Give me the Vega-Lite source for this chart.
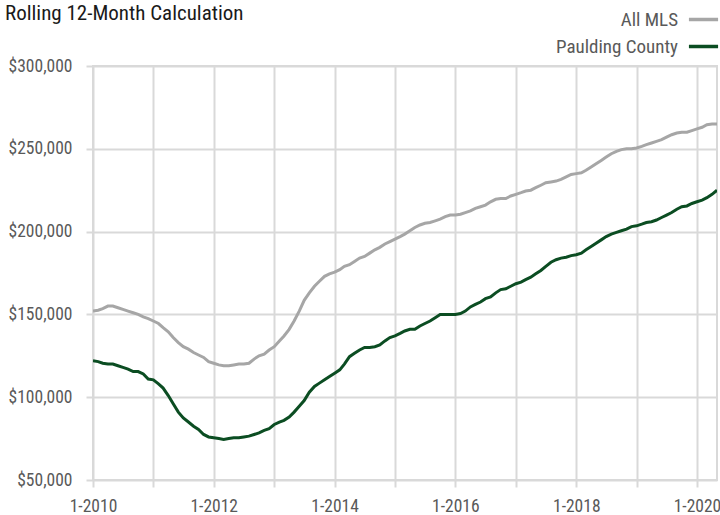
{
  "$schema": "https://vega.github.io/schema/vega-lite/v6.json",
  "width": 624,
  "height": 414,
  "autosize": {"type": "none"},
  "padding": {"left": 93, "top": 66, "right": 3, "bottom": 35},
  "background": "white",
  "config": {
    "font": "Liberation Sans Narrow, Roboto Condensed, DejaVu Sans Condensed, sans-serif",
    "view": {"stroke": "#D9D9D9", "strokeWidth": 2},
    "axis": {
      "gridColor": "#D9D9D9", "gridWidth": 2, "tickColor": "#D9D9D9", "tickWidth": 2, "tickSize": 7,
      "domain": false, "labelColor": "#595959", "labelFontSize": 17.5, "title": null,
      "labelFont": "Liberation Sans Narrow, Roboto Condensed, DejaVu Sans Condensed, sans-serif"
    }
  },
  "title": {
    "text": "Rolling 12-Month Calculation",
    "anchor": "start", "frame": "group", "dx": -88, "offset": -21,
    "fontSize": 21, "fontWeight": "normal", "color": "#1A1A1A",
    "font": "Liberation Sans Narrow, Roboto Condensed, DejaVu Sans Condensed, sans-serif"
  },
  "data": {
    "values": [
      {"date":"2010-01-01","All MLS":152000,"Paulding County":122000},
      {"date":"2010-02-01","All MLS":152500,"Paulding County":121500},
      {"date":"2010-03-01","All MLS":153500,"Paulding County":120500},
      {"date":"2010-04-01","All MLS":155000,"Paulding County":120000},
      {"date":"2010-05-01","All MLS":155000,"Paulding County":120000},
      {"date":"2010-06-01","All MLS":154000,"Paulding County":119000},
      {"date":"2010-07-01","All MLS":153000,"Paulding County":118000},
      {"date":"2010-08-01","All MLS":152000,"Paulding County":117000},
      {"date":"2010-09-01","All MLS":151000,"Paulding County":115500},
      {"date":"2010-10-01","All MLS":150000,"Paulding County":115500},
      {"date":"2010-11-01","All MLS":148500,"Paulding County":114000},
      {"date":"2010-12-01","All MLS":147500,"Paulding County":111000},
      {"date":"2011-01-01","All MLS":146000,"Paulding County":110500},
      {"date":"2011-02-01","All MLS":144500,"Paulding County":108000},
      {"date":"2011-03-01","All MLS":142000,"Paulding County":105500},
      {"date":"2011-04-01","All MLS":139500,"Paulding County":101000},
      {"date":"2011-05-01","All MLS":136000,"Paulding County":96000},
      {"date":"2011-06-01","All MLS":133000,"Paulding County":91000},
      {"date":"2011-07-01","All MLS":130500,"Paulding County":87500},
      {"date":"2011-08-01","All MLS":129000,"Paulding County":85000},
      {"date":"2011-09-01","All MLS":127000,"Paulding County":82500},
      {"date":"2011-10-01","All MLS":125500,"Paulding County":80500},
      {"date":"2011-11-01","All MLS":124000,"Paulding County":77500},
      {"date":"2011-12-01","All MLS":121500,"Paulding County":76000},
      {"date":"2012-01-01","All MLS":120500,"Paulding County":75500},
      {"date":"2012-02-01","All MLS":119500,"Paulding County":75000},
      {"date":"2012-03-01","All MLS":119000,"Paulding County":74500},
      {"date":"2012-04-01","All MLS":119000,"Paulding County":75000},
      {"date":"2012-05-01","All MLS":119500,"Paulding County":75500},
      {"date":"2012-06-01","All MLS":120000,"Paulding County":75500},
      {"date":"2012-07-01","All MLS":120000,"Paulding County":76000},
      {"date":"2012-08-01","All MLS":120500,"Paulding County":76500},
      {"date":"2012-09-01","All MLS":123000,"Paulding County":77500},
      {"date":"2012-10-01","All MLS":125000,"Paulding County":78500},
      {"date":"2012-11-01","All MLS":126000,"Paulding County":80000},
      {"date":"2012-12-01","All MLS":128500,"Paulding County":81000},
      {"date":"2013-01-01","All MLS":130500,"Paulding County":83500},
      {"date":"2013-02-01","All MLS":134000,"Paulding County":85000},
      {"date":"2013-03-01","All MLS":137000,"Paulding County":86000},
      {"date":"2013-04-01","All MLS":141000,"Paulding County":88000},
      {"date":"2013-05-01","All MLS":146000,"Paulding County":91000},
      {"date":"2013-06-01","All MLS":152000,"Paulding County":94500},
      {"date":"2013-07-01","All MLS":158500,"Paulding County":98000},
      {"date":"2013-08-01","All MLS":163000,"Paulding County":103000},
      {"date":"2013-09-01","All MLS":167000,"Paulding County":106500},
      {"date":"2013-10-01","All MLS":170000,"Paulding County":108500},
      {"date":"2013-11-01","All MLS":173000,"Paulding County":110500},
      {"date":"2013-12-01","All MLS":174500,"Paulding County":112500},
      {"date":"2014-01-01","All MLS":175500,"Paulding County":114500},
      {"date":"2014-02-01","All MLS":177000,"Paulding County":116500},
      {"date":"2014-03-01","All MLS":179000,"Paulding County":120000},
      {"date":"2014-04-01","All MLS":180000,"Paulding County":124500},
      {"date":"2014-05-01","All MLS":182000,"Paulding County":126500},
      {"date":"2014-06-01","All MLS":184000,"Paulding County":128500},
      {"date":"2014-07-01","All MLS":185000,"Paulding County":130000},
      {"date":"2014-08-01","All MLS":187000,"Paulding County":130000},
      {"date":"2014-09-01","All MLS":189000,"Paulding County":130500},
      {"date":"2014-10-01","All MLS":190500,"Paulding County":131500},
      {"date":"2014-11-01","All MLS":192500,"Paulding County":134000},
      {"date":"2014-12-01","All MLS":194000,"Paulding County":136000},
      {"date":"2015-01-01","All MLS":195500,"Paulding County":137000},
      {"date":"2015-02-01","All MLS":197000,"Paulding County":138500},
      {"date":"2015-03-01","All MLS":198500,"Paulding County":140000},
      {"date":"2015-04-01","All MLS":200500,"Paulding County":141000},
      {"date":"2015-05-01","All MLS":202500,"Paulding County":141000},
      {"date":"2015-06-01","All MLS":204000,"Paulding County":143000},
      {"date":"2015-07-01","All MLS":205000,"Paulding County":144500},
      {"date":"2015-08-01","All MLS":205500,"Paulding County":146000},
      {"date":"2015-09-01","All MLS":206500,"Paulding County":148000},
      {"date":"2015-10-01","All MLS":207500,"Paulding County":150000},
      {"date":"2015-11-01","All MLS":209000,"Paulding County":150000},
      {"date":"2015-12-01","All MLS":210000,"Paulding County":150000},
      {"date":"2016-01-01","All MLS":210000,"Paulding County":150000},
      {"date":"2016-02-01","All MLS":210500,"Paulding County":150500},
      {"date":"2016-03-01","All MLS":211500,"Paulding County":152000},
      {"date":"2016-04-01","All MLS":212500,"Paulding County":154500},
      {"date":"2016-05-01","All MLS":214000,"Paulding County":156000},
      {"date":"2016-06-01","All MLS":215000,"Paulding County":157500},
      {"date":"2016-07-01","All MLS":216000,"Paulding County":159500},
      {"date":"2016-08-01","All MLS":218000,"Paulding County":160500},
      {"date":"2016-09-01","All MLS":219500,"Paulding County":163000},
      {"date":"2016-10-01","All MLS":220000,"Paulding County":165000},
      {"date":"2016-11-01","All MLS":220000,"Paulding County":165500},
      {"date":"2016-12-01","All MLS":221500,"Paulding County":167000},
      {"date":"2017-01-01","All MLS":222500,"Paulding County":168500},
      {"date":"2017-02-01","All MLS":223500,"Paulding County":169500},
      {"date":"2017-03-01","All MLS":224500,"Paulding County":171000},
      {"date":"2017-04-01","All MLS":225000,"Paulding County":172500},
      {"date":"2017-05-01","All MLS":226500,"Paulding County":174500},
      {"date":"2017-06-01","All MLS":228000,"Paulding County":176500},
      {"date":"2017-07-01","All MLS":229500,"Paulding County":179000},
      {"date":"2017-08-01","All MLS":230000,"Paulding County":181500},
      {"date":"2017-09-01","All MLS":230500,"Paulding County":183000},
      {"date":"2017-10-01","All MLS":231500,"Paulding County":184000},
      {"date":"2017-11-01","All MLS":233000,"Paulding County":184500},
      {"date":"2017-12-01","All MLS":234500,"Paulding County":185500},
      {"date":"2018-01-01","All MLS":235000,"Paulding County":186000},
      {"date":"2018-02-01","All MLS":235500,"Paulding County":187000},
      {"date":"2018-03-01","All MLS":237000,"Paulding County":189000},
      {"date":"2018-04-01","All MLS":239000,"Paulding County":191000},
      {"date":"2018-05-01","All MLS":241000,"Paulding County":193000},
      {"date":"2018-06-01","All MLS":243000,"Paulding County":195000},
      {"date":"2018-07-01","All MLS":245000,"Paulding County":197000},
      {"date":"2018-08-01","All MLS":247000,"Paulding County":198500},
      {"date":"2018-09-01","All MLS":248500,"Paulding County":199500},
      {"date":"2018-10-01","All MLS":249500,"Paulding County":200500},
      {"date":"2018-11-01","All MLS":250000,"Paulding County":201500},
      {"date":"2018-12-01","All MLS":250000,"Paulding County":203000},
      {"date":"2019-01-01","All MLS":250500,"Paulding County":203500},
      {"date":"2019-02-01","All MLS":251500,"Paulding County":204500},
      {"date":"2019-03-01","All MLS":252500,"Paulding County":205500},
      {"date":"2019-04-01","All MLS":253500,"Paulding County":206000},
      {"date":"2019-05-01","All MLS":254500,"Paulding County":207000},
      {"date":"2019-06-01","All MLS":255500,"Paulding County":208500},
      {"date":"2019-07-01","All MLS":257000,"Paulding County":210000},
      {"date":"2019-08-01","All MLS":258500,"Paulding County":211500},
      {"date":"2019-09-01","All MLS":259500,"Paulding County":213500},
      {"date":"2019-10-01","All MLS":260000,"Paulding County":215000},
      {"date":"2019-11-01","All MLS":260000,"Paulding County":215500},
      {"date":"2019-12-01","All MLS":261000,"Paulding County":217000},
      {"date":"2020-01-01","All MLS":262000,"Paulding County":218000},
      {"date":"2020-02-01","All MLS":263000,"Paulding County":219000},
      {"date":"2020-03-01","All MLS":264500,"Paulding County":220500},
      {"date":"2020-04-01","All MLS":265000,"Paulding County":222500},
      {"date":"2020-05-01","All MLS":265000,"Paulding County":225000}
    ]
  },
  "transform": [{"fold": ["All MLS", "Paulding County"], "as": ["series", "price"]}],
  "mark": {"type": "line", "strokeWidth": 3, "clip": true},
  "encoding": {
    "x": {
      "field": "date", "type": "temporal",
      "scale": {"type": "utc", "domain": ["2010-01-01", "2020-05-01"], "nice": false},
      "axis": {
        "tickCount": {"interval": "year", "step": 1},
        "labelExpr": "utcyear(datum.value) % 2 === 0 ? '1-' + utcyear(datum.value) : ''",
        "labelPadding": 10, "labelOverlap": false, "labelBound": false, "labelFlush": false
      }
    },
    "y": {
      "field": "price", "type": "quantitative",
      "scale": {"domain": [50000, 300000], "nice": false, "zero": false},
      "axis": {"values": [50000, 100000, 150000, 200000, 250000, 300000], "format": "$,.0f", "labelPadding": 14}
    },
    "color": {
      "field": "series", "type": "nominal",
      "scale": {"domain": ["All MLS", "Paulding County"], "range": ["#A6A6A6", "#0B4D22"]},
      "legend": {
        "orient": "none", "legendX": 594, "legendY": -63, "title": null,
        "symbolType": "stroke", "symbolSize": 850, "symbolStrokeWidth": 3.5,
        "labelAlign": "right", "labelOffset": -42, "labelFontSize": 19, "labelColor": "#595959",
        "labelFont": "Liberation Sans Narrow, Roboto Condensed, DejaVu Sans Condensed, sans-serif",
        "rowPadding": -6, "padding": 0
      }
    }
  }
}
